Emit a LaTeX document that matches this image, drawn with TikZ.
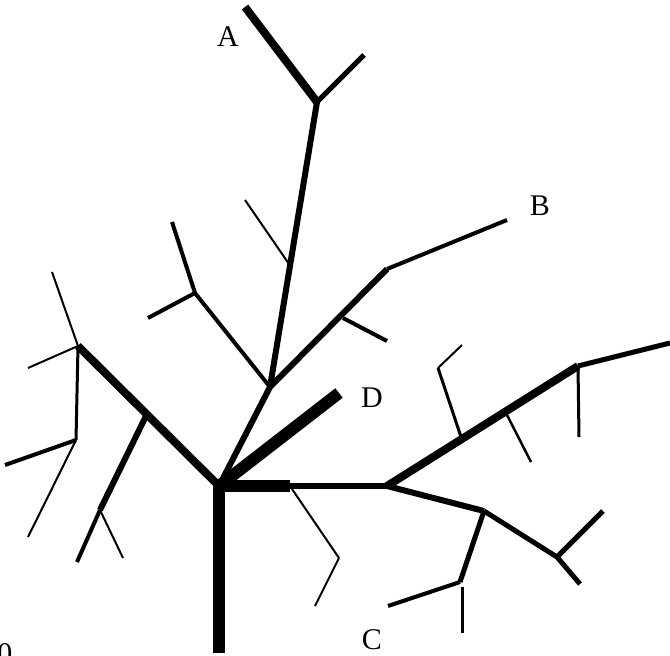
\documentclass[tikz,border=0pt]{standalone}
\usepackage{fontspec}
\setmainfont{Liberation Serif}
\begin{document}
\begin{tikzpicture}[x=1pt,y=-1pt,
  br/.style={line width=#1pt, line cap=butt, line join=miter},
  lbl/.style={font=\fontsize{30}{36}\selectfont, inner sep=0pt}]
\useasboundingbox (0,0) rectangle (670,656);
% junction coordinates
\coordinate (root) at (219,486);
\coordinate (tb) at (219,653);
\coordinate (j1) at (270,387);
\coordinate (a1) at (317,102);
\coordinate (a2) at (245,7);
\coordinate (a3) at (364,55);
\coordinate (s1) at (289,264);
\coordinate (s2) at (245,200);
\coordinate (b1) at (387,269);
\coordinate (b2) at (507,220);
\coordinate (b3) at (343,318);
\coordinate (b4) at (387,341);
\coordinate (u1) at (195,293);
\coordinate (u2) at (172,222);
\coordinate (u3) at (148,318);
\coordinate (d1) at (339,393);
\coordinate (l1) at (78,346);
\coordinate (l2) at (52,272);
\coordinate (l3) at (28,368);
\coordinate (l4) at (76,440);
\coordinate (l5) at (5,465);
\coordinate (l6) at (28,537);
\coordinate (m1) at (146,416);
\coordinate (m2) at (100,510);
\coordinate (m3) at (77,562);
\coordinate (m4) at (123,558);
\coordinate (h1) at (290,486);
\coordinate (h2) at (387,486);
\coordinate (r1) at (578,366);
\coordinate (r2) at (670,343);
\coordinate (r3) at (579,437);
\coordinate (q1) at (461,437);
\coordinate (q2) at (438,368);
\coordinate (q3) at (462,345);
\coordinate (p1) at (507,415);
\coordinate (p2) at (531,462);
\coordinate (c1) at (484,511);
\coordinate (c2) at (557,557);
\coordinate (c3) at (603,511);
\coordinate (c4) at (580,584);
\coordinate (c5) at (460,582);
\coordinate (c6) at (388,606);
\coordinate (c7) at (462,587);
\coordinate (c8) at (462,633);
\coordinate (t1) at (292,489);
\coordinate (t2) at (339,558);
\coordinate (t3) at (315,606);
% branches
\draw[br=12] (root) -- (tb);
\draw[br=12] (root) -- (d1);
\draw[br=12] (root) -- (h1);
\draw[br=6] (h1) -- (h2);
\draw[br=6] (root) -- (j1);
\draw[br=6] (j1) -- (a1);
\draw[br=8] (a1) -- (a2);
\draw[br=5] (a1) -- (a3);
\draw[br=2] (s1) -- (s2);
\draw[br=6] (j1) -- (b1);
\draw[br=4] (b1) -- (b2);
\draw[br=4] (b3) -- (b4);
\draw[br=4] (j1) -- (u1);
\draw[br=4] (u1) -- (u2);
\draw[br=4] (u1) -- (u3);
\draw[br=8] (root) -- (l1);
\draw[br=2] (l1) -- (l2);
\draw[br=2] (l1) -- (l3);
\draw[br=3] (l1) -- (l4);
\draw[br=4] (l4) -- (l5);
\draw[br=2] (l4) -- (l6);
\draw[br=6] (m1) -- (m2);
\draw[br=4] (m2) -- (m3);
\draw[br=2] (m2) -- (m4);
\draw[br=8] (h2) -- (r1);
\draw[br=5] (r1) -- (r2);
\draw[br=3] (r1) -- (r3);
\draw[br=3] (q1) -- (q2);
\draw[br=2] (q2) -- (q3);
\draw[br=2.5] (p1) -- (p2);
\draw[br=6] (h2) -- (c1);
\draw[br=5] (c1) -- (c2);
\draw[br=5] (c2) -- (c3);
\draw[br=5] (c2) -- (c4);
\draw[br=5] (c1) -- (c5);
\draw[br=4] (c5) -- (c6);
\draw[br=3] (c7) -- (c8);
\draw[br=2] (t1) -- (t2);
\draw[br=2] (t2) -- (t3);
% labels
\node[lbl] (lA) at (228,37) {A};
\node[lbl] (lB) at (540,206) {B};
\node[lbl] (lC) at (372,640) {C};
\node[lbl] (lD) at (372,398) {D};
\node[lbl] (l0) at (5,654) {0};
\end{tikzpicture}
\end{document}
